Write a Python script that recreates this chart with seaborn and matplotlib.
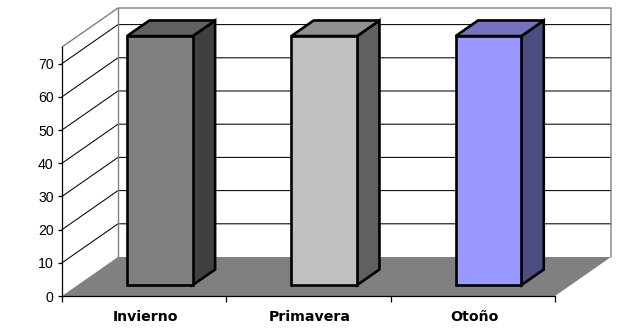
import matplotlib
matplotlib.use('Agg')
import matplotlib.pyplot as plt
from matplotlib.patches import Polygon
import pandas as pd
import seaborn as sns

# Data
categories = ['Invierno', 'Primavera', 'Otoño']
values = [75, 75, 75]
y_ticks = [0, 10, 20, 30, 40, 50, 60, 70]
y_top = 75

front_colors = ['#808080', '#C0C0C0', '#9999FF']
side_colors = ['#404040', '#606060', '#4D4D80']
top_colors = ['#606060', '#909090', '#7373BF']

sns.set_theme(style='white')
plt.rcParams['font.family'] = ['Liberation Sans', 'DejaVu Sans']

W, H = 635, 331
fig = plt.figure(figsize=(W / 100, H / 100), dpi=100)
ax = fig.add_axes([62 / W, (H - 296) / H, 493 / W, 249 / H])

df = pd.DataFrame({'season': categories, 'value': values})
sns.barplot(data=df, x='season', y='value', hue='season', palette=front_colors,
            width=0.4, saturation=1, legend=False, ax=ax)
ax.set_xlim(-0.5, 2.5)
ax.set_ylim(0, y_top)

# pseudo 3D: depth 0 is the front plane, depth 1 the back wall
DX = 56 / (493 / 3)
DY = 39 / (249 / y_top)


def proj(x, y, d):
    return (x + d * DX, y + d * DY)


def face(points, color, z, edge='none', lw=0):
    ax.add_patch(Polygon(points, closed=True, facecolor=color, edgecolor=edge,
                         linewidth=lw, zorder=z, clip_on=False, joinstyle='miter'))


x0, x1 = -0.5, 2.5

# walls and floor
face([proj(x0, 0, 0), proj(x0, y_top, 0), proj(x0, y_top, 1), proj(x0, 0, 1)], 'white', 1)
face([proj(x0, 0, 1), proj(x0, y_top, 1), proj(x1, y_top, 1), proj(x1, 0, 1)], 'white', 1)
face([proj(x0, 0, 0), proj(x1, 0, 0), proj(x1, 0, 1), proj(x0, 0, 1)], '#808080', 1.5)

for t in y_ticks[1:]:
    ax.plot(*zip(proj(x0, t, 0), proj(x0, t, 1), proj(x1, t, 1)), color='black',
            lw=0.75, zorder=1.2, clip_on=False)
ax.plot(*zip(proj(x0, y_top, 0), proj(x0, y_top, 1), proj(x1, y_top, 1), proj(x1, 0, 1)),
        color='#808080', lw=1.0, zorder=1.3, clip_on=False)
ax.plot(*zip(proj(x0, y_top, 1), proj(x0, 0, 1)), color='#808080', lw=1.0, zorder=1.3,
        clip_on=False)

# bars
d_front, d_back = 0.28, 0.68
for i, bar in enumerate(ax.patches[:len(categories)]):
    left, right = bar.get_x(), bar.get_x() + bar.get_width()
    h = bar.get_height()
    bar.set_xy(proj(left, 0, d_front))
    bar.set_edgecolor('black')
    bar.set_linewidth(1.9)
    bar.set_zorder(4)
    bar.set_clip_on(False)
    bar.set_joinstyle('miter')
    face([proj(right, 0, d_front), proj(right, h, d_front), proj(right, h, d_back),
          proj(right, 0, d_back)], side_colors[i], 3, 'black', 1.9)
    face([proj(left, h, d_front), proj(right, h, d_front), proj(right, h, d_back),
          proj(left, h, d_back)], top_colors[i], 3, 'black', 1.9)

# axes
sns.despine(ax=ax, top=True, right=True)
for side in ['left', 'bottom']:
    ax.spines[side].set_color('black')
    ax.spines[side].set_linewidth(0.9)
    ax.spines[side].set_zorder(5)

ax.set_yticks(y_ticks)
ax.tick_params(axis='y', left=True, length=3, width=0.9, color='black', pad=3,
               labelsize=10.2, labelcolor='black')
ax.set_xticks([-0.5, 0.5, 1.5, 2.5], labels=[])
ax.tick_params(axis='x', bottom=True, length=4, width=0.9, color='black')
ax.set_xlabel('')
ax.set_ylabel('')
for i, name in enumerate(categories):
    ax.annotate(name, (i, 0), xytext=(1, -10), textcoords='offset points', ha='center',
                va='top', fontsize=10.2, fontweight='bold', family='DejaVu Sans',
                color='black', annotation_clip=False)

fig.savefig('out.png', dpi=100, facecolor='white')
